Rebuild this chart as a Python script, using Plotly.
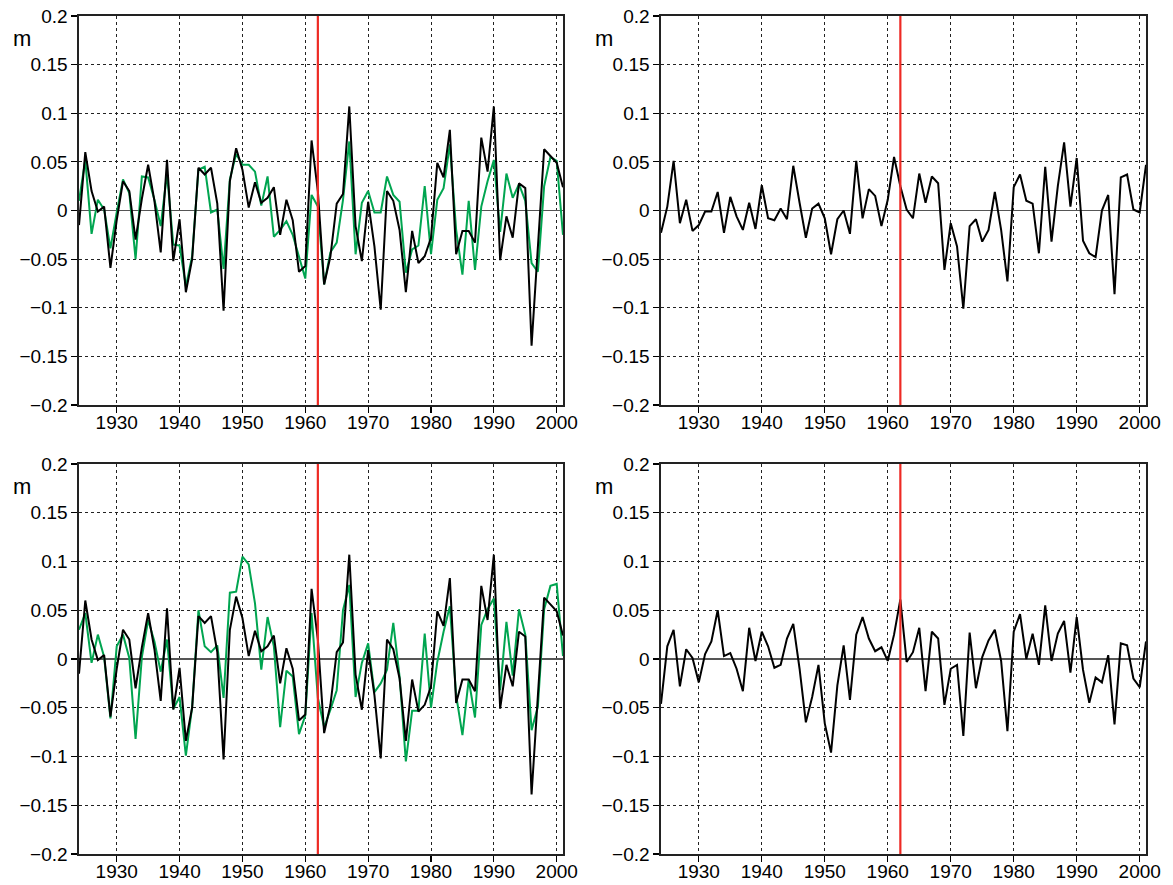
import plotly.graph_objects as go

years = list(range(1924, 2002))

black_left = [
    -0.015, 0.060, 0.020, -0.001, 0.004, -0.059, -0.010, 0.030, 0.020, -0.030,
    0.012, 0.047, 0.010, -0.043, 0.052, -0.052, -0.009, -0.084, -0.050, 0.044,
    0.037, 0.044, 0.007, -0.103, 0.030, 0.064, 0.042, 0.003, 0.029, 0.008,
    0.013, 0.024, -0.025, 0.011, -0.010, -0.063, -0.057, 0.072, 0.020, -0.076,
    -0.047, 0.007, 0.017, 0.107, -0.016, -0.052, 0.009, -0.037, -0.102, 0.020,
    0.010, -0.020, -0.084, -0.021, -0.054, -0.047, -0.028, 0.049, 0.034, 0.083,
    -0.045, -0.021, -0.021, -0.033, 0.075, 0.040, 0.107, -0.051, -0.006, -0.028,
    0.028, 0.023, -0.139, -0.035, 0.063, 0.056, 0.049, 0.024,
]

green_top_left = [
    0.010, 0.052, -0.024, 0.011, 0.001, -0.039, -0.002, 0.032, 0.018, -0.050,
    0.035, 0.034, 0.011, -0.016, 0.038, -0.035, -0.036, -0.078, -0.047, 0.042,
    0.045, -0.002, 0.001, -0.060, 0.032, 0.058, 0.047, 0.047, 0.040, 0.005,
    0.035, -0.027, -0.020, -0.011, -0.025, -0.047, -0.070, 0.016, 0.004, -0.076,
    -0.043, -0.033, 0.011, 0.071, -0.045, 0.008, 0.020, -0.002, -0.002, 0.035,
    0.016, 0.009, -0.064, -0.040, -0.036, 0.025, -0.045, 0.011, 0.023, 0.068,
    -0.020, -0.066, 0.010, -0.061, 0.004, 0.030, 0.052, -0.022, 0.038, 0.013,
    0.027, 0.010, -0.054, -0.063, 0.025, 0.055, 0.051, -0.025,
]

green_bottom_left = [
    0.030, 0.047, -0.004, 0.025, 0.002, -0.061, 0.013, 0.025, 0.001, -0.082,
    0.002, 0.040, 0.018, -0.013, 0.020, -0.051, -0.039, -0.099, -0.049, 0.050,
    0.013, 0.007, 0.014, -0.040, 0.068, 0.069, 0.105, 0.097, 0.057, -0.011,
    0.043, 0.013, -0.070, -0.012, -0.018, -0.077, -0.058, 0.047, -0.040, -0.070,
    -0.052, -0.032, 0.050, 0.076, -0.039, -0.004, 0.016, -0.034, -0.025, -0.011,
    0.037, -0.018, -0.105, -0.053, -0.053, 0.026, -0.050, -0.003, 0.028, 0.054,
    -0.037, -0.078, -0.021, -0.060, 0.035, 0.051, 0.062, -0.032, 0.038, -0.017,
    0.051, 0.025, -0.073, -0.049, 0.051, 0.075, 0.077, 0.003,
]

black_top_right = [
    -0.023, 0.004, 0.051, -0.013, 0.011, -0.021, -0.015, -0.001, -0.001, 0.019,
    -0.023, 0.014, -0.006, -0.020, 0.008, -0.019, 0.026, -0.008, -0.010, 0.002,
    -0.009, 0.046, 0.008, -0.028, 0.002, 0.007, -0.008, -0.045, -0.009, 0.000,
    -0.024, 0.051, -0.008, 0.022, 0.015, -0.016, 0.011, 0.055, 0.025, 0.001,
    -0.008, 0.038, 0.008, 0.035, 0.028, -0.061, -0.013, -0.037, -0.101, -0.016,
    -0.009, -0.032, -0.020, 0.019, -0.020, -0.073, 0.024, 0.037, 0.010, 0.007,
    -0.044, 0.045, -0.032, 0.025, 0.070, 0.004, 0.054, -0.031, -0.044, -0.048,
    0.000, 0.016, -0.086, 0.034, 0.037, 0.001, -0.002, 0.047,
]

black_bottom_right = [
    -0.046, 0.013, 0.030, -0.028, 0.010, 0.001, -0.024, 0.005, 0.018, 0.050,
    0.003, 0.006, -0.010, -0.033, 0.032, -0.002, 0.028, 0.013, -0.009, -0.006,
    0.021, 0.036, -0.010, -0.065, -0.039, -0.006, -0.066, -0.096, -0.027, 0.014,
    -0.042, 0.025, 0.043, 0.021, 0.008, 0.012, -0.002, 0.025, 0.061, -0.003,
    0.007, 0.032, -0.033, 0.028, 0.021, -0.047, -0.010, -0.006, -0.079, 0.027,
    -0.030, 0.002, 0.019, 0.030, -0.002, -0.074, 0.028, 0.046, 0.000, 0.026,
    -0.006, 0.055, -0.002, 0.026, 0.039, -0.014, 0.043, -0.011, -0.045, -0.019,
    -0.024, 0.004, -0.067, 0.016, 0.014, -0.020, -0.029, 0.018,
]

event_year = 1962
y_ticks = [-0.2, -0.15, -0.1, -0.05, 0, 0.05, 0.1, 0.15, 0.2]
y_tick_text = ["\u22120.2", "\u22120.15", "\u22120.1", "\u22120.05", "0",
               "0.05", "0.1", "0.15", "0.2"]
x_ticks = [1930, 1940, 1950, 1960, 1970, 1980, 1990, 2000]
unit_label = "m"

GREEN = "#00a550"
BLACK = "#000000"
RED = "#ee2a24"
W, H = 1173, 885
FONT = "Liberation Sans, Arial, Helvetica, sans-serif"

# panel boxes in window pixels: (left, right, top, bottom)
panels = [
    (79, 563, 16, 405),
    (661, 1146, 16, 405),
    (79, 563, 464, 854),
    (661, 1146, 464, 854),
]
panel_series = [
    [(green_top_left, GREEN), (black_left, BLACK)],
    [(black_top_right, BLACK)],
    [(green_bottom_left, GREEN), (black_left, BLACK)],
    [(black_bottom_right, BLACK)],
]


def px_x(x):
    return x / W


def px_y(y):
    return 1 - y / H


fig = go.Figure()
layout = dict(
    template="none",
    width=W, height=H,
    margin=dict(l=0, r=0, t=0, b=0, pad=0),
    paper_bgcolor="white", plot_bgcolor="white",
    showlegend=False, hovermode=False,
    font=dict(family=FONT, size=19, color="black"),
)

annotations = []
shapes = []
for i, ((l, r, t, b), series) in enumerate(zip(panels, panel_series)):
    idx = "" if i == 0 else str(i + 1)
    xa, ya = "x" + idx, "y" + idx
    for vals, col in series:
        fig.add_trace(go.Scatter(x=years, y=vals, mode="lines",
                                 line=dict(color=col, width=2),
                                 xaxis=xa, yaxis=ya))
    layout["xaxis" + idx] = dict(
        domain=[px_x(l), px_x(r)], range=[1924, 2001], anchor=ya,
        automargin=False, ticklabelstandoff=-6, ticklabeloverflow="allow",
        tickvals=x_ticks, ticks="outside", ticklen=6, tickwidth=1.2,
        tickcolor="black", showgrid=True, gridcolor="#222", griddash="dot",
        gridwidth=1, showline=True, linecolor="#222", linewidth=1.6,
        mirror=True, zeroline=False, tickfont=dict(size=19),
    )
    layout["yaxis" + idx] = dict(
        domain=[px_y(b), px_y(t)], range=[-0.2, 0.2], anchor=xa,
        automargin=False, ticklabeloverflow="allow",
        tickvals=y_ticks, ticktext=y_tick_text, ticks="outside", ticklen=6,
        tickwidth=1.2, tickcolor="black", showgrid=True, gridcolor="#222",
        griddash="dot", gridwidth=1, showline=True, linecolor="#222",
        linewidth=1.6, mirror=True, zeroline=True, zerolinecolor="#555",
        zerolinewidth=1.6, tickfont=dict(size=19),
    )
    shapes.append(dict(type="line", xref=xa, yref=ya, x0=event_year,
                       x1=event_year, y0=-0.2, y1=0.2,
                       line=dict(color=RED, width=2.2), layer="above"))
    annotations.append(dict(text=unit_label, xref="paper", yref="paper",
                            x=px_x(l - 57), y=px_y(t + 22),
                            xanchor="center", yanchor="middle",
                            showarrow=False, font=dict(size=22)))

layout["shapes"] = shapes
layout["annotations"] = annotations
fig.update_layout(**layout)
fig.write_html(
    "out.html",
    config={"displayModeBar": False, "staticPlot": True},
    post_script="document.body.style.margin='0';"
                "document.body.style.overflow='hidden';",
)
